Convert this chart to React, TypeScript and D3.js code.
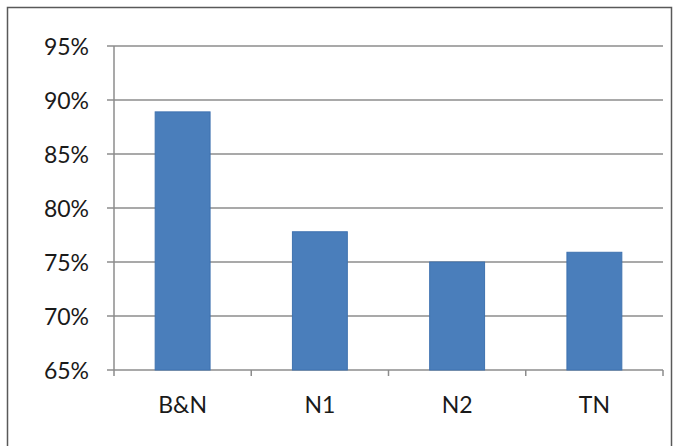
import React from "react";
import * as d3 from "d3";

const categories = ["B&N", "N1", "N2", "TN"];
const values = [0.889, 0.778, 0.75, 0.759];
const yTicks = [0.65, 0.7, 0.75, 0.8, 0.85, 0.9, 0.95];

export default function App() {
  const W = 678, H = 446;
  const left = 114, right = 663, top = 46, bottom = 370;
  const x = d3.scaleBand<string>().domain(categories).range([left, right]).paddingInner(0.6).paddingOuter(0.3);
  const xb = d3.scaleBand<string>().domain(categories).range([left, right]);
  const y = d3.scaleLinear().domain([0.65, 0.95]).range([bottom, top]);
  const fmt = d3.format(".0%");
  const font = "Lato, 'Open Sans', sans-serif";
  return (
    <svg width={W} height={H} style={{ position: "absolute", left: 0, top: 0, background: "#fff" }}>
      <rect x={7.5} y={7.5} width={664} height={450} fill="#fff" stroke="#595959" strokeWidth={1.5} />
      {yTicks.map((t) => (
        <g key={t}>
          <line x1={left - 7} x2={right} y1={y(t)} y2={y(t)} stroke="#8c8c8c" strokeWidth={1.5} />
          <text x={89} y={y(t) + 8.5} textAnchor="end" fontFamily={font} fontSize={23} fill="#1a1a1a">{fmt(t)}</text>
        </g>
      ))}
      <line x1={left} x2={left} y1={top} y2={bottom} stroke="#8c8c8c" strokeWidth={1.5} />
      {categories.map((c, i) => (
        <rect key={c} x={x(c)} width={x.bandwidth()} y={y(values[i])} height={y(0.65) - y(values[i])} fill="#4a7ebb" stroke="#3f72b0" strokeWidth={1} />
      ))}
      {[...categories.map((c) => xb(c) as number), right].map((p, i) => (
        <line key={i} x1={p} x2={p} y1={bottom} y2={bottom + 6} stroke="#8c8c8c" strokeWidth={1.5} />
      ))}
      {categories.map((c) => (
        <text key={c} x={(xb(c) as number) + xb.bandwidth() / 2} y={413} textAnchor="middle" fontFamily={font} fontSize={23} fill="#1a1a1a">{c}</text>
      ))}
    </svg>
  );
}
